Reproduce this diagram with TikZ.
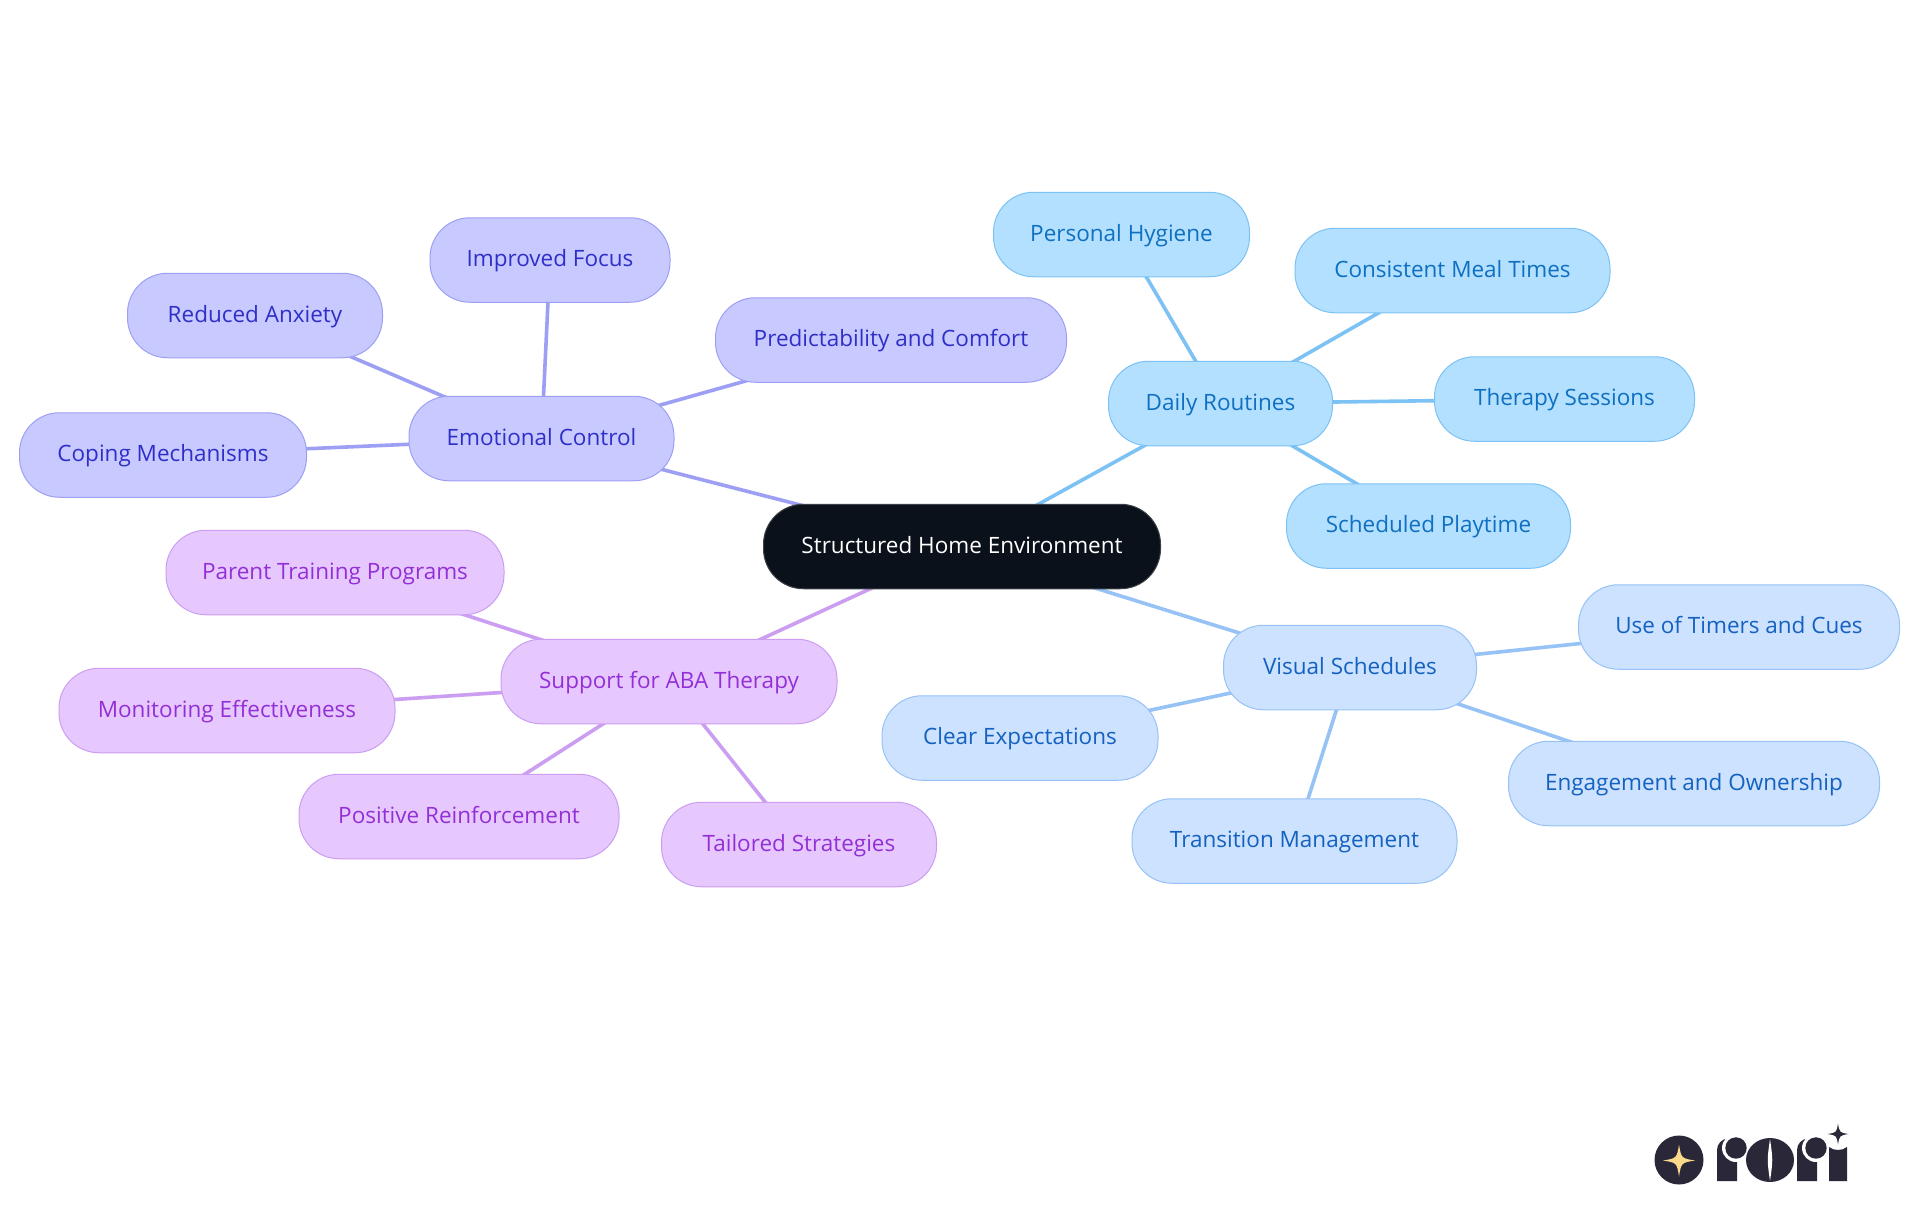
\documentclass[tikz,border=0pt]{standalone}
\usepackage{fontspec}
\setmainfont{Open Sans}
\usetikzlibrary{backgrounds}

\definecolor{rootfill}{HTML}{0B111A}
\definecolor{emofill}{HTML}{C8CAFF}
\definecolor{emoline}{HTML}{9D9FF5}
\definecolor{emotext}{HTML}{2F2FC8}
\definecolor{dayfill}{HTML}{B3E0FF}
\definecolor{dayline}{HTML}{7CC2F4}
\definecolor{daytext}{HTML}{0F6FC0}
\definecolor{visfill}{HTML}{CCE2FF}
\definecolor{visline}{HTML}{97C2F6}
\definecolor{vistext}{HTML}{1561BF}
\definecolor{supfill}{HTML}{E6C8FF}
\definecolor{supline}{HTML}{CB9EF2}
\definecolor{suptext}{HTML}{9330D5}
\definecolor{logodark}{HTML}{2A2838}
\definecolor{logostar}{HTML}{FBD98B}

\newcommand{\sparkle}[4]{\fill[#4] (#1,#2-#3) .. controls (#1+.14*#3,#2-.14*#3) .. (#1+#3,#2) .. controls (#1+.14*#3,#2+.14*#3) .. (#1,#2+#3) .. controls (#1-.14*#3,#2+.14*#3) .. (#1-#3,#2) .. controls (#1-.14*#3,#2-.14*#3) .. cycle;}
\newcommand{\logostem}[1]{%
  \fill[logodark] (#1,1181) -- (#1,1150) arc[start angle=180, end angle=270, radius=11.5] -- (#1+20,1138.5) -- (#1+20,1181) -- cycle;
  \fill[white] (#1+19,1148) circle[radius=14];
  \fill[logodark] (#1+19,1148) circle[radius=10.7];}

\begin{document}
\begin{tikzpicture}[x=1pt, y=-1pt, pill/.style={rectangle, draw, rounded corners=40pt, line width=1pt, minimum height=84.5pt, inner sep=0pt, text height=19.5pt, text depth=6pt, font=\fontsize{22.5}{27}\selectfont}, rootbox/.style={pill, fill=rootfill, draw=rootfill!80!white, text=white}, emobox/.style={pill, fill=emofill, draw=emoline, text=emotext}, daybox/.style={pill, fill=dayfill, draw=dayline, text=daytext}, visbox/.style={pill, fill=visfill, draw=visline, text=vistext}, supbox/.style={pill, fill=supfill, draw=supline, text=suptext}, emolink/.style={draw=emoline, line width=3.6pt}, daylink/.style={draw=dayline, line width=3.6pt}, vislink/.style={draw=visline, line width=3.6pt}, suplink/.style={draw=supline, line width=3.6pt}]
  \useasboundingbox (0,0) rectangle (1920,1215);

  \node[rootbox, minimum width=397pt] (root) at (962,546.5) {Structured Home Environment};

  \node[emobox, minimum width=265pt] (emotion) at (541.5,438.5) {Emotional Control};
  \node[emobox, minimum width=351pt] (comfort) at (891,340) {Predictability and Comfort};
  \node[emobox, minimum width=240pt] (focus) at (550,260) {Improved Focus};
  \node[emobox, minimum width=255pt] (anxiety) at (255,315.5) {Reduced Anxiety};
  \node[emobox, minimum width=287pt] (coping) at (163,455) {Coping Mechanisms};

  \node[daybox, minimum width=224pt] (routines) at (1220.5,403.5) {Daily Routines};
  \node[daybox, minimum width=256pt] (hygiene) at (1121.5,234.5) {Personal Hygiene};
  \node[daybox, minimum width=315pt] (meals) at (1452.5,270.5) {Consistent Meal Times};
  \node[daybox, minimum width=260pt] (therapy) at (1564.5,399) {Therapy Sessions};
  \node[daybox, minimum width=284pt] (playtime) at (1428.5,526) {Scheduled Playtime};

  \node[visbox, minimum width=253pt] (schedules) at (1350,667.5) {Visual Schedules};
  \node[visbox, minimum width=321pt] (timers) at (1739,627) {Use of Timers and Cues};
  \node[visbox, minimum width=371pt] (ownership) at (1694,783.5) {Engagement and Ownership};
  \node[visbox, minimum width=325pt] (transition) at (1294.5,841) {Transition Management};
  \node[visbox, minimum width=276pt] (clear) at (1020,738) {Clear Expectations};

  \node[supbox, minimum width=336pt] (support) at (669,681.5) {Support for ABA Therapy};
  \node[supbox, minimum width=338pt] (parent) at (335,572.5) {Parent Training Programs};
  \node[supbox, minimum width=336pt] (monitor) at (227,710.5) {Monitoring Effectiveness};
  \node[supbox, minimum width=320pt] (positive) at (459,816.5) {Positive Reinforcement};
  \node[supbox, minimum width=275pt] (tailored) at (799,844.5) {Tailored Strategies};

  \begin{scope}[on background layer]
    \fill[white] (0,0) rectangle (1920,1215);
    \foreach \leaf in {root,comfort,focus,anxiety,coping}
      \draw[emolink] (emotion.center) -- (\leaf.center);
    \foreach \leaf in {root,hygiene,meals,therapy,playtime}
      \draw[daylink] (routines.center) -- (\leaf.center);
    \foreach \leaf in {root,timers,ownership,transition,clear}
      \draw[vislink] (schedules.center) -- (\leaf.center);
    \foreach \leaf in {root,parent,monitor,positive,tailored}
      \draw[suplink] (support.center) -- (\leaf.center);
  \end{scope}

  % logo
  \fill[logodark] (1679,1160) circle[radius=24.5];
  \sparkle{1679}{1160.5}{16}{logostar}
  \logostem{1717}
  \logostem{1797}
  \fill[logodark] (1770,1160) ellipse[x radius=24, y radius=22];
  \fill[white] (1770,1139) .. controls (1773,1160) .. (1770,1181) .. controls (1767,1160) .. cycle;
  \fill[logodark] (1829,1147) .. controls (1834,1151) and (1842,1151) .. (1847,1147) -- (1847,1181) -- (1829,1181) -- cycle;
  \sparkle{1838}{1134}{10.5}{logodark}
\end{tikzpicture}
\end{document}
